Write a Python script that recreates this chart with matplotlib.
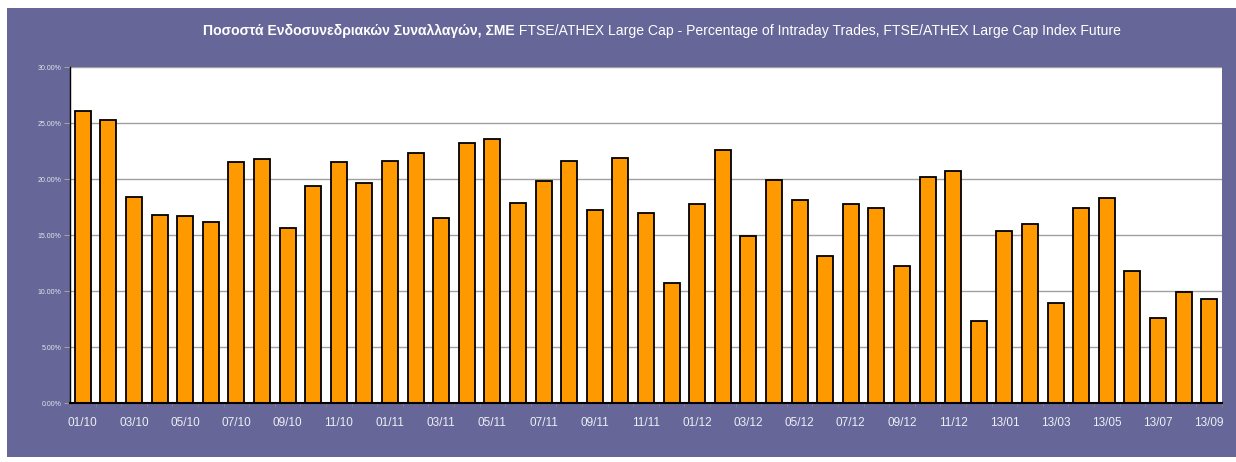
import numpy as np
import matplotlib.pyplot as plt
from matplotlib.patches import Rectangle
from matplotlib.ticker import FixedLocator, PercentFormatter

# ---------------------------------------------------------------------------
# data
# ---------------------------------------------------------------------------
# the source switches from MM/YY to YY/MM in 2013, kept as shown
months = [f"{m:02d}/{y:02d}" for y in (10, 11, 12) for m in range(1, 13)] + \
         [f"13/{m:02d}" for m in range(1, 10)]

intraday_pct = [
    26.1, 25.3, 18.4, 16.8, 16.7, 16.2, 21.5, 21.8, 15.6, 19.4, 21.5, 19.6,
    21.6, 22.3, 16.5, 23.2, 23.6, 17.9, 19.8, 21.6, 17.2, 21.9, 17.0, 10.7,
    17.8, 22.6, 14.9, 19.9, 18.1, 13.1, 17.8, 17.4, 12.2, 20.2, 20.7, 7.3,
    15.4, 16.0, 8.9, 17.4, 18.3, 11.8, 7.6, 9.9, 9.3,
]

title_bold = "Ποσοστά Ενδοσυνεδριακών Συναλλαγών, ΣΜΕ"
title_rest = " FTSE/ATHEX Large Cap - Percentage of Intraday Trades, FTSE/ATHEX Large Cap Index Future"

PURPLE = "#666699"
ORANGE = "#FF9900"

plt.rcParams["font.family"] = ["Liberation Sans", "DejaVu Sans"]

W, H = 1236, 462
fig = plt.figure(figsize=(W / 100, H / 100), dpi=100)
fig.patch.set_facecolor("white")

# purple chart frame behind everything
fig.patches.append(Rectangle((7 / W, 1 - 457 / H), 1 - 7 / W, (457 - 8) / H,
                             transform=fig.transFigure, facecolor=PURPLE,
                             edgecolor="none", zorder=-10))

ax = fig.add_axes([70 / W, 1 - 403 / H, (1222 - 70) / W, (403 - 67) / H])
ax.set_facecolor("white")

x = np.arange(len(intraday_pct))
ax.bar(x, intraday_pct, width=0.62, color=ORANGE, edgecolor="black",
       linewidth=1.3, zorder=3)

ax.set_xlim(-0.5, len(intraday_pct) - 0.5)
ax.set_ylim(0, 30)

# y axis
ax.set_yticks(np.arange(0, 30.1, 5))
ax.yaxis.set_major_formatter(PercentFormatter(decimals=2))
ax.tick_params(axis="y", length=4, color="#a0a0a0", labelsize=5,
               labelcolor="#e4e4ee", pad=2)
ax.grid(axis="y", color="#a0a0a0", linewidth=1, zorder=0)

# x axis: labels every other month, tick marks on category boundaries
ax.set_xticks(x[::2])
ax.set_xticklabels(months[::2])
ax.tick_params(axis="x", which="major", length=0, labelsize=8.5,
               labelcolor="#eeeef6", pad=10)
ax.xaxis.set_minor_locator(FixedLocator(np.arange(-0.5, len(intraday_pct), 1)))
ax.tick_params(axis="x", which="minor", length=3, color="#808080")

for side in ("top", "right"):
    ax.spines[side].set_visible(False)
ax.spines["left"].set_color("black")
ax.spines["left"].set_linewidth(1)
ax.spines["bottom"].set_color("black")
ax.spines["bottom"].set_linewidth(1.5)
ax.spines["bottom"].set_zorder(4)

# title: bold Greek part + regular English part, fitted to 203..1122 px
x0, x1 = 203, 1122
ty = 1 - 31 / H
fs = 10
t1 = fig.text(x0 / W, ty, title_bold, ha="left", va="center", color="white",
              fontsize=fs, fontweight="bold")
t2 = fig.text(0, ty, title_rest, ha="left", va="center", color="white",
              fontsize=fs)
r = fig.canvas.get_renderer()
total = t1.get_window_extent(r).width + t2.get_window_extent(r).width
fs = fs * (x1 - x0) / total
t1.set_fontsize(fs)
t2.set_fontsize(fs)
w1 = t1.get_window_extent(r).width
t2.set_x((x0 + w1) / W)

fig.savefig("out.png", dpi=100, facecolor=fig.get_facecolor())
